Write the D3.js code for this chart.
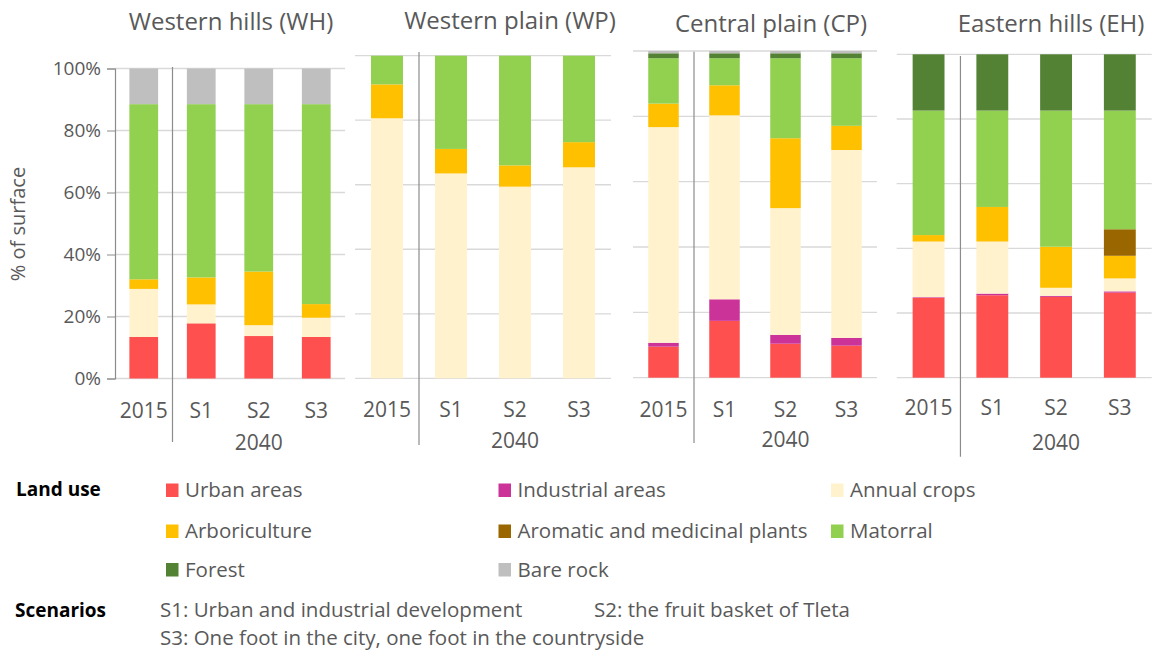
<!DOCTYPE html>
<html>
<head>
<meta charset="utf-8">
<title>Land use scenarios</title>
<style type="text/css">
	body { margin: 0; background: #fff; }
	svg { display: block; font-family: "Open Sans", sans-serif; }
	.grid line { stroke: #d9d9d9; stroke-width: 1.3; }
	.axis-txt { fill: #595959; }
	.leg-txt { fill: #595959; font-size: 20.5px; }
	.leg-head { fill: #000; font-size: 19px; font-weight: bold; }
</style>
<script src="https://cdn.jsdelivr.net/npm/d3@7/dist/d3.min.js"></script>
</head>
<body>
<div id="chart"></div>
<script type="text/javascript">
// categories on the x axis of every panel
var categories = ["2015", "S1", "S2", "S3"];
var landUses = ["Urban areas", "Industrial areas", "Annual crops", "Arboriculture",
	"Aromatic and medicinal plants", "Matorral", "Forest", "Bare rock"];
var landColors = ["#ff5050", "#cc3399", "#fff2cc", "#ffc000", "#996600", "#92d050", "#548235", "#bfbfbf"];
var panelTitles = ["Western hills (WH)", "Western plain (WP)", "Central plain (CP)", "Eastern hills (EH)"];
var yTicks = [0, 20, 40, 60, 80, 100];

// % of surface, one row per land use (bottom to top), one column per category
var whShares = [
	[13.4, 17.8, 13.7, 13.4],
	[0, 0, 0, 0],
	[15.5, 6.1, 3.5, 6.2],
	[3.1, 8.7, 17.3, 4.4],
	[0, 0, 0, 0],
	[56.5, 55.9, 54.0, 64.5],
	[0, 0, 0, 0],
	[11.5, 11.5, 11.5, 11.5]
];
var wpShares = [
	[0, 0, 0, 0],
	[0, 0, 0, 0],
	[80.6, 63.5, 59.4, 65.4],
	[10.5, 7.6, 6.6, 7.8],
	[0, 0, 0, 0],
	[8.9, 28.9, 34.0, 26.8],
	[0, 0, 0, 0],
	[0, 0, 0, 0]
];
var cpShares = [
	[9.5, 17.4, 10.4, 9.8],
	[1.2, 6.6, 2.7, 2.4],
	[66.0, 56.3, 38.8, 57.5],
	[7.2, 9.2, 21.4, 7.4],
	[0, 0, 0, 0],
	[13.9, 8.3, 24.5, 20.7],
	[1.5, 1.5, 1.5, 1.5],
	[0.7, 0.7, 0.7, 0.7]
];
var ehShares = [
	[24.7, 25.5, 25.0, 26.3],
	[0.2, 0.5, 0.3, 0.4],
	[17.2, 16.1, 2.5, 4.0],
	[2.0, 10.7, 12.7, 7.0],
	[0, 0, 0, 8.2],
	[38.5, 29.8, 42.1, 36.7],
	[17.4, 17.4, 17.4, 17.4],
	[0, 0, 0, 0]
];
var scenarioNotes = ["S1: Urban and industrial development", "S2: the fruit basket of Tleta",
	"S3: One foot in the city, one foot in the countryside"];

var width = 1152, height = 657;

var svg = d3.select('#chart').append('svg')
		.attr('width', width)
		.attr('height', height);

// each panel was pasted in with its own size, so each gets its own frame
var panels = [
	{ shares: whShares, x0: 115, x1: 345, yTop: 68.5, yBot: 378.5, titleX: 231, titleY: 30, sepTop: 67, sepBot: 442, catY: 418, yearY: 450 },
	{ shares: wpShares, x0: 355, x1: 611, yTop: 55.7, yBot: 378.3, titleX: 510, titleY: 28.5, sepTop: 52, sepBot: 445, catY: 417, yearY: 448 },
	{ shares: cpShares, x0: 633, x1: 877, yTop: 51, yBot: 377.7, titleX: 771, titleY: 32, sepTop: 51.7, sepBot: 443, catY: 416.5, yearY: 447 },
	{ shares: ehShares, x0: 896.7, x1: 1151.7, yTop: 54.3, yBot: 377.7, titleX: 1051, titleY: 31.5, sepTop: 56, sepBot: 456.7, catY: 415, yearY: 450 }
];

var stack = d3.stack().keys(landUses);

panels.forEach(function(p, pi){
	var x = d3.scaleBand().domain(categories).range([p.x0, p.x1]).paddingInner(0.5).paddingOuter(0.25);
	var y = d3.scaleLinear().domain([0, 100]).range([p.yBot, p.yTop]);

	var rows = categories.map(function(c, j){
		var r = { cat: c };
		landUses.forEach(function(k, i){ r[k] = p.shares[i][j]; });
		return r;
	});
	var series = stack(rows);

	var g = svg.append('g');

	// horizontal gridlines
	g.append('g').attr('class', 'grid')
		.selectAll('line')
			.data(yTicks)
		.enter().append('line')
			.attr('x1', p.x0).attr('x2', p.x1)
			.attr('y1', function(d){ return y(d); })
			.attr('y2', function(d){ return y(d); });

	// bars
	g.selectAll('.layer')
			.data(series)
		.enter().append('g')
			.attr('class', 'layer')
			.attr('fill', function(d, i){ return landColors[i]; })
		.selectAll('rect')
			.data(function(d){ return d.filter(function(s){ return s[1] - s[0] > 0; }); })
		.enter().append('rect')
			.attr('x', function(d){ return x(d.data.cat); })
			.attr('width', x.bandwidth())
			.attr('y', function(d){ return y(d[1]); })
			.attr('height', function(d){ return y(d[0]) - y(d[1]); });

	// separator between 2015 and 2040
	var sepX = p.x0 + x.step();
	g.append('line')
		.attr('x1', sepX).attr('x2', sepX)
		.attr('y1', p.sepTop).attr('y2', p.sepBot)
		.attr('stroke', '#8c8c8c').attr('stroke-width', 1.2);

	// category labels
	g.selectAll('.cat')
			.data(categories)
		.enter().append('text')
			.attr('class', 'axis-txt')
			.attr('x', function(d){ return x(d) + x.bandwidth() / 2; })
			.attr('y', p.catY)
			.attr('text-anchor', 'middle')
			.style('font-size', '21px')
			.text(function(d){ return d; });

	g.append('text')
		.attr('class', 'axis-txt')
		.attr('x', x('S2') + x.bandwidth() / 2)
		.attr('y', p.yearY)
		.attr('text-anchor', 'middle')
		.style('font-size', '21px')
		.text('2040');

	g.append('text')
		.attr('class', 'axis-txt')
		.attr('x', p.titleX)
		.attr('y', p.titleY)
		.attr('text-anchor', 'middle')
		.style('font-size', '24px')
		.text(panelTitles[pi]);

	// only the first panel keeps its y axis
	if (pi == 0) {
		var yAxis = d3.axisLeft(y).tickValues(yTicks).tickSize(8).tickPadding(6)
			.tickFormat(function(d){ return d + '%'; });
		var ax = g.append('g').attr('transform', 'translate(' + p.x0 + ',0)').call(yAxis);
		ax.select('.domain').attr('stroke', '#8c8c8c').attr('stroke-width', 1.2);
		ax.selectAll('.tick line').attr('stroke', '#8c8c8c');
		ax.selectAll('.tick text').attr('class', 'axis-txt').style('font-size', '19px')
			.style('font-family', '"Open Sans", sans-serif');

		g.append('text')
			.attr('class', 'axis-txt')
			.attr('transform', 'translate(25,224) rotate(-90)')
			.attr('text-anchor', 'middle')
			.style('font-size', '20px')
			.text('% of surface');
	}
});

// legend
var legX = [166, 498.5, 831];
var legY = [490, 531, 569.5];

svg.append('text').attr('class', 'leg-head').attr('x', 16).attr('y', 496).text('Land use');

var leg = svg.selectAll('.leg')
		.data(landUses)
	.enter().append('g')
		.attr('class', 'leg')
		.attr('transform', function(d, i){ return 'translate(' + legX[i % 3] + ',' + legY[Math.floor(i / 3)] + ')'; });

leg.append('rect')
	.attr('x', 0).attr('y', -6.5)
	.attr('width', 12.5).attr('height', 13.5)
	.attr('fill', function(d, i){ return landColors[i]; });

leg.append('text')
	.attr('class', 'leg-txt')
	.attr('x', 19).attr('y', 7)
	.text(function(d){ return d; });

svg.append('text').attr('class', 'leg-head').attr('x', 15).attr('y', 617).text('Scenarios');

var noteX = [160, 594, 160];
var noteY = [617, 617, 645];
svg.selectAll('.note')
		.data(scenarioNotes)
	.enter().append('text')
		.attr('class', 'leg-txt')
		.attr('x', function(d, i){ return noteX[i]; })
		.attr('y', function(d, i){ return noteY[i]; })
		.style('font-size', '20.5px')
		.text(function(d){ return d; });
</script>
</body>
</html>
